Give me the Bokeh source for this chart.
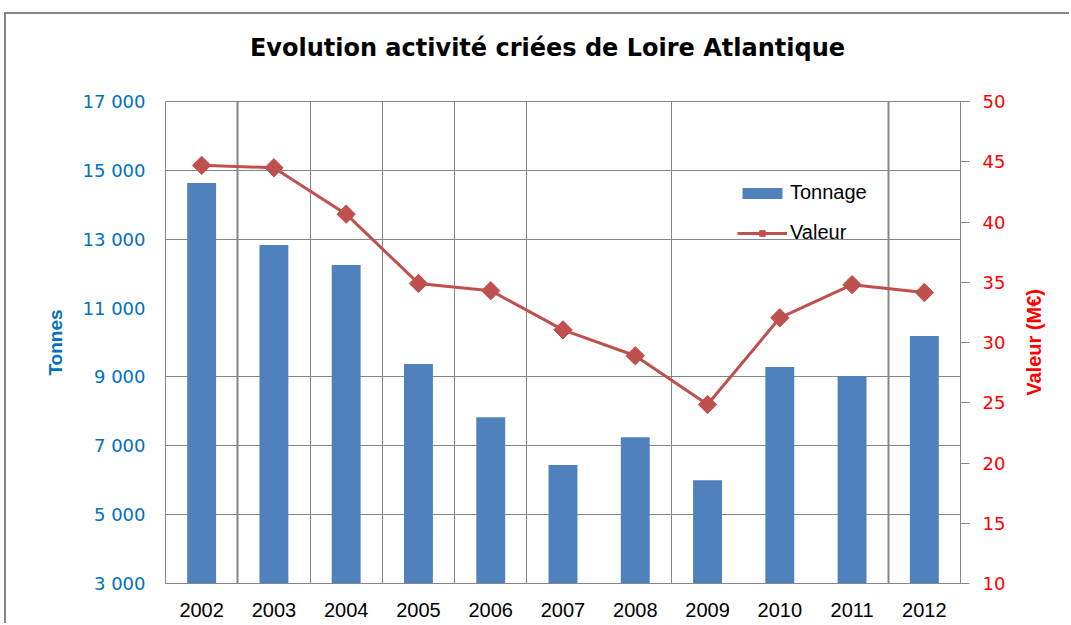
import math
from bokeh.plotting import figure
from bokeh.models import (Range1d, LinearAxis, FixedTicker, Grid, Legend, LegendItem,
                          ColumnDataSource)
from bokeh.embed import file_html
from bokeh.resources import INLINE

# ---- data ----
years = ["2002", "2003", "2004", "2005", "2006", "2007", "2008", "2009", "2010", "2011", "2012"]
tonnage = [14630, 12830, 12250, 9375, 7830, 6440, 7250, 6000, 9290, 9030, 10190]
valeur = [44.7, 44.5, 40.65, 34.9, 34.3, 31.05, 28.9, 24.85, 32.05, 34.8, 34.15]

tonnes_ticks = [3000, 5000, 7000, 9000, 11000, 13000, 15000, 17000]
valeur_ticks = [10, 15, 20, 25, 30, 35, 40, 45, 50]
# grid lines that are visible in the reference picture
grid_tonnes = [5000, 7000, 9000, 13000, 15000]
grid_years = [1, 2, 3, 4, 5, 7, 10]
grid_years_thick = [1, 10]

title_text = "Evolution activité criées de Loire Atlantique"
left_title = "Tonnes"
right_title = "Valeur (M€)"

GREY = "#868686"
BLUE = "#4F81BD"
RED = "#C0504D"

# anchor points (axis units) for the chart title and the right-axis title
TITLE_AT_X = 5.285
RTITLE_AT_V = 25.58

xs = [i + 0.5 for i in range(len(years))]
src = ColumnDataSource(dict(x=xs, t=tonnage, v=valeur))

p = figure(width=1065, height=611, output_backend="svg", toolbar_location=None,
           x_range=Range1d(0, len(years)), y_range=Range1d(3000, 17000),
           min_border_left=159, min_border_right=111, min_border_top=87, min_border_bottom=42,
           background_fill_color="white", border_fill_color="white",
           outline_line_color=GREY)
p.styles = {"margin-left": "4px", "margin-top": "12px",
            "border-left": "2px solid #868686", "border-top": "2px solid #868686"}
p.extra_y_ranges = {"val": Range1d(10, 50)}

xa = p.below[0]
ya = p.left[0]


def bare_axis(axis):
    axis.major_tick_out = 0
    axis.major_tick_in = 0
    axis.minor_tick_out = 0
    axis.minor_tick_in = 0
    axis.axis_line_color = None
    return axis


# x axis
xa.ticker = FixedTicker(ticks=xs)
xa.major_label_overrides = {x: y for x, y in zip(xs, years)}
xa.major_tick_out = 0
xa.major_tick_in = 0
xa.minor_tick_out = 0
xa.minor_tick_in = 0
xa.axis_line_color = GREY
xa.major_label_standoff = 19
xa.major_label_text_font = "Liberation Sans"
xa.major_label_text_font_size = "20px"
xa.major_label_text_color = "black"

# left axis
ya.ticker = FixedTicker(ticks=tonnes_ticks)
ya.major_label_overrides = {t: f"{t:,}".replace(",", " ") for t in tonnes_ticks}
ya.major_tick_out = 0
ya.major_tick_in = 0
ya.minor_tick_out = 0
ya.minor_tick_in = 0
ya.axis_line_color = GREY
ya.major_label_standoff = 20
ya.major_label_text_font = "DejaVu Sans"
ya.major_label_text_font_size = "18px"
ya.major_label_text_color = "#0070C0"
ya.axis_label = left_title
ya.axis_label_text_font = "Liberation Sans"
ya.axis_label_text_font_size = "19px"
ya.axis_label_text_font_style = "bold"
ya.axis_label_text_color = "#0070C0"
ya.axis_label_standoff = 14

# chart title: single labelled tick on a bare axis above the frame
t_ax = bare_axis(LinearAxis(ticker=FixedTicker(ticks=[TITLE_AT_X])))
t_ax.major_label_overrides = {TITLE_AT_X: title_text}
t_ax.major_label_standoff = 40
t_ax.major_label_text_font = "DejaVu Sans"
t_ax.major_label_text_font_size = "24px"
t_ax.major_label_text_font_style = "bold"
t_ax.major_label_text_color = "black"
p.add_layout(t_ax, "above")

# right axis
ra = LinearAxis(y_range_name="val", ticker=FixedTicker(ticks=valeur_ticks))
ra.major_tick_out = 9
ra.major_tick_in = 0
ra.minor_tick_out = 0
ra.minor_tick_in = 0
ra.major_tick_line_color = GREY
ra.axis_line_color = GREY
ra.major_label_standoff = 13
ra.major_label_text_font = "DejaVu Sans"
ra.major_label_text_font_size = "18px"
ra.major_label_text_color = "#FF0000"
p.add_layout(ra, "right")

# right axis title, reading bottom to top: single labelled tick on a bare axis
r_ax = bare_axis(LinearAxis(y_range_name="val", ticker=FixedTicker(ticks=[RTITLE_AT_V])))
r_ax.major_label_overrides = {RTITLE_AT_V: right_title}
r_ax.major_label_orientation = math.pi / 2
r_ax.major_label_standoff = 26
r_ax.major_label_text_font = "Liberation Sans"
r_ax.major_label_text_font_size = "20px"
r_ax.major_label_text_font_style = "bold"
r_ax.major_label_text_color = "#FF0000"
p.add_layout(r_ax, "right")

# grids
p.xgrid.ticker = FixedTicker(ticks=grid_years)
p.xgrid.grid_line_color = GREY
p.ygrid.ticker = FixedTicker(ticks=grid_tonnes)
p.ygrid.grid_line_color = GREY
p.add_layout(Grid(dimension=0, ticker=FixedTicker(ticks=grid_years_thick),
                  grid_line_color=GREY, grid_line_width=2))

# glyphs
bars = p.vbar(x="x", top="t", bottom=3000, width=0.4, source=src,
              fill_color=BLUE, line_color=None)
ln = p.line("x", "v", source=src, y_range_name="val", line_color=RED, line_width=3)
pts = p.scatter("x", "v", source=src, y_range_name="val", marker="square",
                angle=math.pi / 4, size=13, fill_color=RED, line_color=RED)

legend = Legend(items=[LegendItem(label="Tonnage", renderers=[bars]),
                       LegendItem(label="Valeur", renderers=[ln, pts])],
                location=(572, 339), orientation="vertical",
                background_fill_alpha=0, border_line_color=None,
                padding=0, margin=0, spacing=17,
                glyph_width=50, glyph_height=14, label_height=14, label_standoff=3,
                label_text_font="Liberation Sans", label_text_font_size="20px",
                label_text_color="black")
p.add_layout(legend)

open("out.html", "w").write(file_html(p, INLINE))
